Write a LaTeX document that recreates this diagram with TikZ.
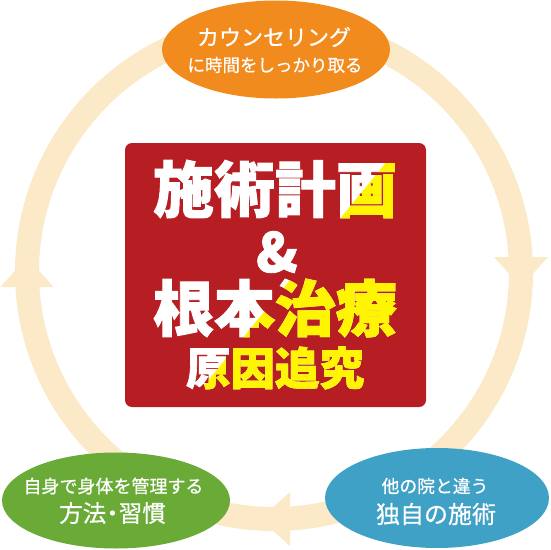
\documentclass[tikz,border=0pt]{standalone}
\usepackage{fontspec}
\usetikzlibrary{shapes.geometric}
\newfontfamily\jp{Noto Sans CJK JP}[BoldFeatures={FakeBold=1.5}]
\newfontfamily\jpm{Noto Sans CJK JP}[FakeBold=0.6]
\definecolor{ringcol}{RGB}{251,233,200}
\definecolor{orangecol}{RGB}{242,139,30}
\definecolor{greencol}{RGB}{106,171,56}
\definecolor{bluecol}{RGB}{64,161,198}
\definecolor{redcol}{RGB}{183,30,35}
\definecolor{yellowcol}{RGB}{255,245,0}
\tikzset{
  ringline/.style={draw=ringcol, line width=24pt},
  ringhead/.style={fill=ringcol},
  bubble/.style={ellipse, inner sep=0pt, draw=none},
  redbox/.style={rectangle, rounded corners=7pt, fill=redcol, inner sep=0pt, draw=none},
  txt/.style={inner sep=0pt, text=white},
  bigtxt/.style={inner sep=0pt, font=\jp\bfseries\fontsize{61}{64}\selectfont},
  midtxt/.style={inner sep=0pt, font=\jp\bfseries\fontsize{44.5}{48}\selectfont},
  amptxt/.style={inner sep=0pt, text=white, font=\jp\bfseries\fontsize{54}{58}\selectfont},
}
\begin{document}
\begin{tikzpicture}[x=1pt,y=-1pt]
\useasboundingbox (0,0) rectangle (550,550);
% cycle ring
\coordinate (rc) at (274,272);
\draw[ringline] (rc) circle[radius=247];
\fill[ringhead] (0.5,287) -- (27,257) -- (53.5,287) -- cycle;
\fill[ringhead] (494,257) -- (521,287) -- (548,257) -- cycle;
\fill[ringhead] (290,492) -- (260,519) -- (290,546) -- cycle;
% bubbles
\node[bubble, fill=orangecol, minimum width=228pt, minimum height=98pt] (top) at (276,49.5) {};
\node[bubble, fill=greencol, minimum width=228pt, minimum height=96pt] (left) at (116,500.5) {};
\node[bubble, fill=bluecol, minimum width=224pt, minimum height=100pt] (right) at (437,498) {};
\node[txt, font=\jpm\fontsize{22}{24}\selectfont] (t1) at (274,37) {カウンセリング};
\node[txt, font=\jpm\fontsize{17.5}{20}\selectfont] (t2) at (275,65) {に時間をしっかり取る};
\node[txt, font=\jpm\fontsize{18}{20}\selectfont] (l1) at (113.5,486) {自身で身体を管理する};
\node[txt, font=\jpm\fontsize{23.5}{26}\selectfont] (l2) at (112.5,513) {方法\hspace{-5.5pt}・\hspace{-5.5pt}習慣};
\node[txt, font=\jpm\fontsize{17.8}{20}\selectfont] (r1) at (435,486) {他の院と違う};
\node[txt, font=\jpm\fontsize{24}{26}\selectfont] (r2) at (436,514) {独自の施術};
% central box
\node[redbox, minimum width=301pt, minimum height=264pt] (box) at (275.5,275) {};
\node[bigtxt, text=white] (w1) at (275,189) {施術計画};
\node[amptxt] (amp) at (277,252) {\&};
\node[bigtxt, text=white] (w3) at (275,308) {根本治療};
\node[midtxt, text=white] (w4) at (275,368) {原因追究};
\begin{scope}
\clip (437,100) -- (560,100) -- (560,450) -- (151.3,450) -- cycle;
\node[bigtxt, text=yellowcol] (y1) at (275,189) {施術計画};
\node[bigtxt, text=yellowcol] (y3) at (275,308) {根本治療};
\node[midtxt, text=yellowcol] (y4) at (275,368) {原因追究};
\end{scope}
\end{tikzpicture}
\end{document}
